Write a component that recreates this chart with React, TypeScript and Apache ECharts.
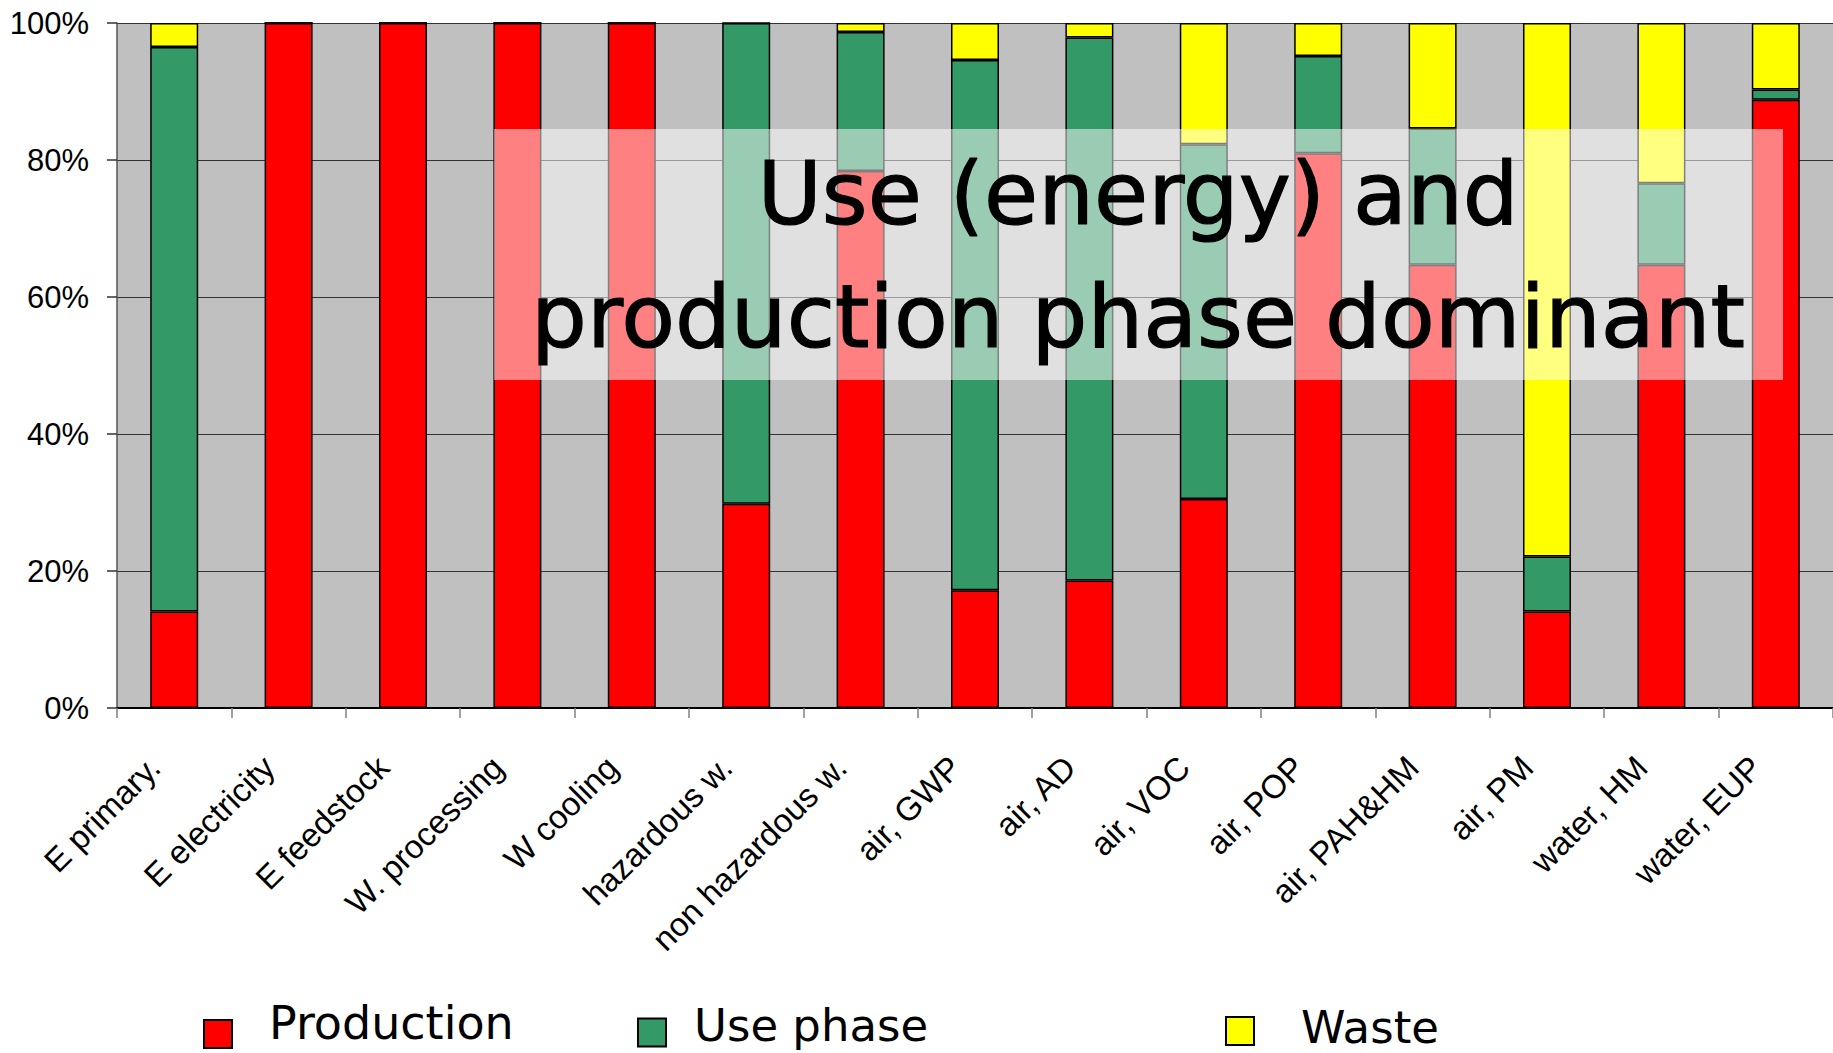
import React, { useEffect, useRef } from 'react';
import * as echarts from 'echarts';

const categories = [
  'E primary.',
  'E electricity',
  'E feedstock',
  'W. processing',
  'W cooling',
  'hazardous w.',
  'non hazardous w.',
  'air, GWP',
  'air, AD',
  'air, VOC',
  'air, POP',
  'air, PAH&HM',
  'air, PM',
  'water, HM',
  'water, EUP',
];
const production = [14.1, 100, 100, 100, 100, 29.8, 78.4, 17.2, 18.6, 30.5, 81.0, 64.7, 14.1, 64.7, 88.8];
const usePhase = [82.4, 0, 0, 0, 0, 70.2, 20.3, 77.4, 79.3, 51.8, 14.2, 19.9, 8.0, 11.9, 1.5];
const waste = [3.5, 0, 0, 0, 0, 0, 1.3, 5.4, 2.1, 17.7, 4.8, 15.4, 77.9, 23.4, 9.7];
const seriesNames = ['Production', 'Use phase', 'Waste'];
const seriesColors = ['#FF0000', '#339966', '#FFFF00'];
const titleLines = ['Use (energy) and', 'production phase dominant'];

export default function App() {
  const ref = useRef<HTMLDivElement>(null);
  useEffect(() => {
    if (!ref.current) return;
    const chart = echarts.init(ref.current, undefined, { renderer: 'svg' });
    const datasets = [production, usePhase, waste];
    const legendFont = 'DejaVu Sans';
    const mkLegend = (name: string, left: number, top: number, fontSize: number, pl: number, lh: number) => ({
      data: [name],
      left,
      top,
      padding: 0,
      itemWidth: 28,
      itemHeight: 28,
      icon: 'rect',
      selectedMode: false,
      formatter: (n: string) => n + '\n',
      textStyle: {
        fontFamily: legendFont,
        fontSize,
        color: '#000',
        lineHeight: lh,
        padding: [0, 0, 0, pl],
      },
    });
    chart.setOption({
      animation: false,
      backgroundColor: '#ffffff',
      grid: {
        left: 117,
        top: 23,
        right: -6,
        bottom: 345,
        show: true,
        backgroundColor: '#C0C0C0',
        borderWidth: 0,
      },
      legend: [
        mkLegend(seriesNames[0], 203, 1000, 46, 32, 22),
        mkLegend(seriesNames[1], 637, 1003, 45, 23, 14),
        mkLegend(seriesNames[2], 1225, 1005, 45, 42, 7),
      ],
      xAxis: {
        type: 'category',
        data: categories,
        boundaryGap: true,
        axisLine: { show: true, lineStyle: { color: '#000', width: 2 } },
        axisTick: { show: true, length: 10, lineStyle: { color: '#808080', width: 1.5 } },
        axisLabel: {
          interval: 0,
          rotate: 45,
          margin: 34,
          padding: [0, 28, 0, 0],
          fontFamily: 'Liberation Sans',
          fontSize: 33,
          color: '#000',
          hideOverlap: false,
        },
        splitLine: { show: false },
      },
      yAxis: {
        type: 'value',
        min: 0,
        max: 100,
        interval: 20,
        axisLine: { show: true, lineStyle: { color: '#555', width: 1.5 } },
        axisTick: { show: true, length: 10, lineStyle: { color: '#333', width: 1.5 } },
        axisLabel: {
          formatter: '{value}%',
          margin: 28,
          fontFamily: 'Liberation Sans',
          fontSize: 31,
          color: '#000',
        },
        splitLine: { show: true, lineStyle: { color: '#333', width: 1 } },
      },
      series: datasets.map((d, i) => ({
        name: seriesNames[i],
        type: 'bar',
        stack: 'total',
        data: d,
        barWidth: 48,
        itemStyle: { color: seriesColors[i], borderColor: '#000', borderWidth: 1.5 },
      })),
      graphic: [
        {
          type: 'rect',
          z: 100,
          shape: { x: 494, y: 129, width: 1289, height: 251 },
          style: { fill: 'rgba(255,255,255,0.5)' },
        },
        {
          type: 'text',
          z: 101,
          x: 1138,
          y: 255,
          style: {
            text: titleLines.join('\n'),
            fontFamily: 'DejaVu Sans',
            fontSize: 88,
            lineHeight: 123,
            fill: '#000',
            stroke: '#000',
            lineWidth: 1.2,
            align: 'center',
            verticalAlign: 'middle',
          },
        },
      ],
    });
    return () => chart.dispose();
  }, []);
  return (
    <div
      ref={ref}
      style={{ position: 'fixed', left: 0, top: 0, width: 1833, height: 1053 }}
    />
  );
}
